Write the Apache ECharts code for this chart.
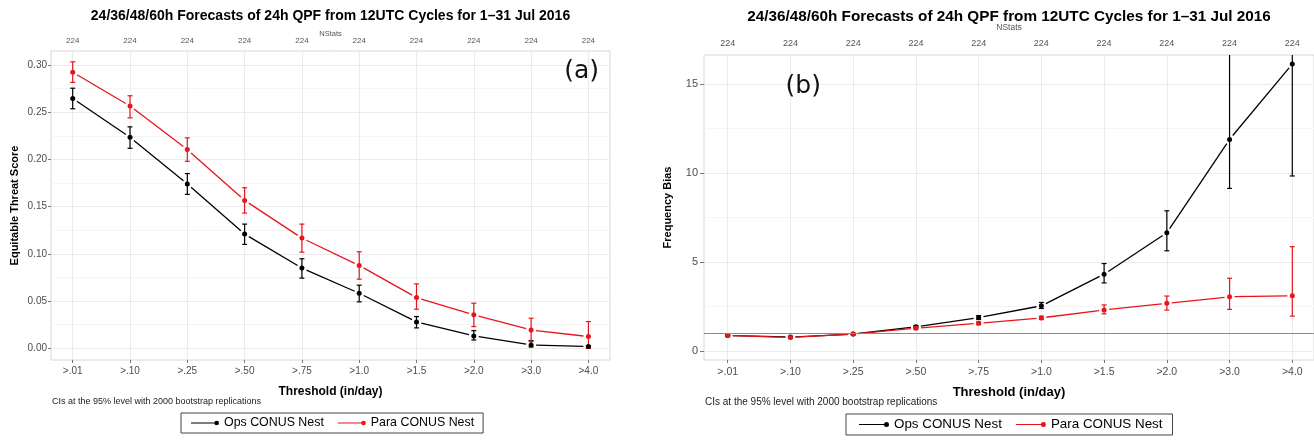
<!DOCTYPE html>
<html><head><meta charset="utf-8">
<script src="https://cdn.jsdelivr.net/npm/echarts@6/dist/echarts.min.js"></script>
<style>html,body{margin:0;padding:0;background:#fff}#chart{width:1314px;height:440px}</style>
</head><body><div id="chart"></div>
<script>
// ---------------- DATA ----------------
const titleText = '24/36/48/60h Forecasts of 24h QPF from 12UTC Cycles for 1\u201331 Jul 2016';
const categories = ['>.01', '>.10', '>.25', '>.50', '>.75', '>1.0', '>1.5', '>2.0', '>3.0', '>4.0'];
const nStats = ['224', '224', '224', '224', '224', '224', '224', '224', '224', '224'];
const seriesNames = ['Ops CONUS Nest', 'Para CONUS Nest'];

// (a) Equitable Threat Score
const etsTicks = [0, 0.05, 0.10, 0.15, 0.20, 0.25, 0.30];
const etsMinor = [0.025, 0.075, 0.125, 0.175, 0.225, 0.275];
const etsOps    = [0.2645, 0.2235, 0.174, 0.121, 0.0849, 0.0583, 0.0279, 0.0131, 0.0035, 0.0018];
const etsOpsLo  = [0.2536, 0.2118, 0.163, 0.110, 0.0743, 0.0492, 0.0216, 0.0088, 0.0014, 0.0000];
const etsOpsHi  = [0.2754, 0.2345, 0.185, 0.1315, 0.0948, 0.0668, 0.0336, 0.0187, 0.0081, 0.0028];
const etsPara   = [0.2924, 0.2565, 0.2104, 0.1566, 0.1167, 0.0877, 0.0537, 0.0354, 0.0194, 0.0124];
const etsParaLo = [0.2815, 0.2440, 0.1980, 0.1432, 0.1018, 0.0732, 0.0414, 0.0230, 0.0071, 0.0000];
const etsParaHi = [0.3033, 0.2674, 0.2228, 0.1700, 0.1315, 0.1022, 0.0682, 0.0477, 0.0318, 0.0283];

// (b) Frequency Bias
const biasTicks = [0, 5, 10, 15];
const biasMinor = [2.5, 7.5, 12.5];
const biasRef = 1;
const biasOps    = [0.86, 0.77, 0.94, 1.35, 1.87, 2.53, 4.31, 6.64, 11.90, 16.14];
const biasOpsLo  = [0.82, 0.73, 0.90, 1.28, 1.76, 2.38, 3.82, 5.63, 9.14, 9.84];
const biasOpsHi  = [0.90, 0.81, 0.98, 1.42, 1.98, 2.72, 4.91, 7.88, 17.4, 23.5];
const biasPara   = [0.86, 0.75, 0.94, 1.27, 1.55, 1.85, 2.30, 2.67, 3.04, 3.10];
const biasParaLo = [0.83, 0.72, 0.91, 1.20, 1.47, 1.76, 2.08, 2.29, 2.33, 1.95];
const biasParaHi = [0.89, 0.78, 0.97, 1.34, 1.63, 1.95, 2.58, 3.08, 4.08, 5.86];

// ---------------- STYLE ----------------
const FONT = "'Liberation Sans', Arial, Helvetica, sans-serif";
const OPS = '#000000', PARA = '#e8141c';
const MAJOR = '#ebebeb', MINOR = '#f5f5f5', BORDER = '#d6d6d6', TICKTXT = '#4d4d4d';
const catIdx = categories.map((_, i) => i);
const legendIcon = 'path://M0,4.5H26V5.5H0Z M25,5A2.5,2.5 0 1 1 30,5A2.5,2.5 0 1 1 25,5Z';

function segData(v) { const o = []; for (let i = 0; i < v.length - 1; i++) o.push([i, v[i], i + 1, v[i + 1]]); return o; }
function errData(lo, hi) { return lo.map((l, i) => [i, l, hi[i]]); }
function ptData(v) { return v.map((y, i) => [i, y]); }

function segRender(lw) {
  return function (params, api) {
    const a = api.coord([api.value(0), api.value(1)]);
    const b = api.coord([api.value(2), api.value(3)]);
    const dx = b[0] - a[0], dy = b[1] - a[1];
    const L = Math.sqrt(dx * dx + dy * dy) || 1;
    const g = Math.min(5, L / 2 - 0.5);
    const ux = dx / L, uy = dy / L;
    return { type: 'line', shape: { x1: a[0] + ux * g, y1: a[1] + uy * g, x2: b[0] - ux * g, y2: b[1] - uy * g },
      style: { stroke: api.visual('color'), lineWidth: lw } };
  };
}
function errRender(lw, cap) {
  return function (params, api) {
    const cs = params.coordSys;
    const x = api.value(0);
    const pl = api.coord([x, api.value(1)]), ph = api.coord([x, api.value(2)]);
    const top = Math.max(ph[1], cs.y), bot = Math.min(pl[1], cs.y + cs.height);
    const st = { stroke: api.visual('color'), lineWidth: lw };
    const ch = [{ type: 'line', shape: { x1: pl[0], y1: top, x2: pl[0], y2: bot }, style: st }];
    if (ph[1] >= cs.y) ch.push({ type: 'line', shape: { x1: pl[0] - cap, y1: ph[1], x2: pl[0] + cap, y2: ph[1] }, style: st });
    if (pl[1] <= cs.y + cs.height) ch.push({ type: 'line', shape: { x1: pl[0] - cap, y1: pl[1], x2: pl[0] + cap, y2: pl[1] }, style: st });
    return { type: 'group', children: ch };
  };
}

function panelSeries(xi, yi, sets, lw, markRef) {
  const out = [];
  sets.forEach(s => {
    out.push({ type: 'custom', name: s.name, xAxisIndex: xi, yAxisIndex: yi, itemStyle: { color: s.color },
      renderItem: segRender(lw), encode: { x: [0, 2], y: [1, 3] }, data: segData(s.v), silent: true, z: 3 });
    out.push({ type: 'custom', name: s.name, xAxisIndex: xi, yAxisIndex: yi, itemStyle: { color: s.color },
      renderItem: errRender(1.2, 2.5), encode: { x: 0, y: [1, 2] }, data: errData(s.lo, s.hi), silent: true, z: 3 });
    out.push({ type: 'scatter', name: s.name, xAxisIndex: xi, yAxisIndex: yi, symbol: 'circle', symbolSize: 5,
      itemStyle: { color: s.color, opacity: 1 }, data: ptData(s.v), silent: true, z: 4 });
  });
  if (markRef !== undefined) {
    out[0].markLine = { silent: true, symbol: 'none', label: { show: false },
      lineStyle: { color: '#8a8a8a', width: 1, type: 'solid' }, data: [{ yAxis: markRef }] };
  }
  return out;
}

function bottomX(grid, min, max, fs, margin, nameGap, nameFs) {
  return { type: 'value', gridIndex: grid, position: 'bottom', min: min, max: max,
    axisLine: { show: false, onZero: false },
    axisTick: { show: true, length: 3, lineStyle: { color: '#777' }, customValues: catIdx },
    axisLabel: { customValues: catIdx, formatter: v => categories[Math.round(v)], fontSize: fs, color: TICKTXT, fontFamily: FONT, margin: margin },
    splitLine: { show: true, lineStyle: { color: MAJOR, width: 1 } },
    name: 'Threshold (in/day)', nameLocation: 'middle', nameGap: nameGap,
    nameTextStyle: { fontSize: nameFs, fontWeight: 'bold', color: '#000', fontFamily: FONT } };
}
function topX(grid, min, max, fs, margin, nameGap) {
  return { type: 'value', gridIndex: grid, position: 'top', min: min, max: max,
    axisLine: { show: false, onZero: false }, axisTick: { show: false, customValues: catIdx },
    axisLabel: { customValues: catIdx, formatter: v => nStats[Math.round(v)], fontSize: fs, color: '#555', fontFamily: FONT, margin: margin },
    splitLine: { show: false },
    name: 'NStats', nameLocation: 'middle', nameGap: nameGap, nameMoveOverlap: false,
    nameTextStyle: { fontSize: fs - 0.5, color: '#555', fontFamily: FONT } };
}
function mainY(grid, min, max, ticks, fmt, fs, margin, tickLen, name, nameGap) {
  return { type: 'value', gridIndex: grid, position: 'left', min: min, max: max,
    axisLine: { show: false, onZero: false },
    axisTick: { show: true, length: tickLen, lineStyle: { color: '#777' }, customValues: ticks },
    axisLabel: { customValues: ticks, formatter: fmt, fontSize: fs, color: TICKTXT, fontFamily: FONT, margin: margin },
    splitLine: { show: true, lineStyle: { color: MAJOR, width: 1 } },
    name: name, nameLocation: 'middle', nameGap: nameGap,
    nameTextStyle: { fontSize: 11, fontWeight: 'bold', color: '#000', fontFamily: FONT } };
}
function minorY(grid, min, max, ticks) {
  return { type: 'value', gridIndex: grid, position: 'left', min: min, max: max,
    axisLine: { show: false, onZero: false }, axisTick: { show: false, customValues: ticks },
    axisLabel: { show: false, customValues: ticks },
    splitLine: { show: true, lineStyle: { color: MINOR, width: 1 } } };
}

const option = {
  backgroundColor: '#ffffff',
  animation: false,
  textStyle: { fontFamily: FONT },
  title: [
    { text: titleText, left: 330.5, top: 9, textAlign: 'center', padding: 0,
      textStyle: { fontSize: 14, fontWeight: 'bold', color: '#000', fontFamily: FONT } },
    { text: titleText, left: 1009, top: 9, textAlign: 'center', padding: 0,
      textStyle: { fontSize: 15.3, fontWeight: 'bold', color: '#000', fontFamily: FONT } }
  ],
  grid: [
    { left: 51, top: 51, width: 559, height: 309, show: true, borderColor: BORDER, borderWidth: 1, backgroundColor: '#fff' },
    { left: 704, top: 55, width: 610, height: 305, show: true, borderColor: BORDER, borderWidth: 1, backgroundColor: '#fff' }
  ],
  xAxis: [
    bottomX(0, -0.379, 9.377, 10, 6, 26, 12),
    topX(0, -0.379, 9.377, 8, 6, 13),
    bottomX(1, -0.378, 9.346, 10.5, 7, 26, 13),
    topX(1, -0.378, 9.346, 9, 7, 23)
  ],
  yAxis: [
    mainY(0, -0.0124, 0.3148, etsTicks, v => v.toFixed(2), 10, 4, 3, 'Equitable Threat Score', 31),
    minorY(0, -0.0124, 0.3148, etsMinor),
    mainY(1, -0.52, 16.65, biasTicks, v => String(Math.round(v)), 11, 6, 4, 'Frequency Bias', 31),
    minorY(1, -0.52, 16.65, biasMinor)
  ],
  legend: [
    { left: 181, top: 413, orient: 'horizontal', padding: [4, 9, 4, 10], itemGap: 14, itemWidth: 28, itemHeight: 5,
      borderColor: '#444', borderWidth: 1, backgroundColor: '#fff', selectedMode: false,
      textStyle: { fontSize: 12.4, color: '#000', fontFamily: FONT },
      data: [{ name: seriesNames[0], icon: legendIcon, itemStyle: { color: OPS } },
             { name: seriesNames[1], icon: legendIcon, itemStyle: { color: PARA } }] },
    { left: 846, top: 414, orient: 'horizontal', padding: [4, 10, 4, 13], itemGap: 14, itemWidth: 30, itemHeight: 5,
      borderColor: '#444', borderWidth: 1, backgroundColor: '#fff', selectedMode: false,
      textStyle: { fontSize: 13.4, color: '#000', fontFamily: FONT },
      data: [{ name: seriesNames[0], icon: legendIcon, itemStyle: { color: OPS } },
             { name: seriesNames[1], icon: legendIcon, itemStyle: { color: PARA } }] }
  ],
  graphic: [
    { type: 'text', left: 52, top: 397, style: { text: 'CIs at the 95% level with 2000 bootstrap replications', fontSize: 9, fill: '#222', fontFamily: FONT } },
    { type: 'text', left: 705, top: 397, style: { text: 'CIs at the 95% level with 2000 bootstrap replications', fontSize: 10, fill: '#222', fontFamily: FONT } },
    { type: 'text', x: 581.7, y: 71.7, style: { text: '(a)', fontSize: 25, fill: '#111', fontFamily: "'DejaVu Sans', sans-serif", align: 'center', verticalAlign: 'middle' }, z: 10 },
    { type: 'text', x: 803.3, y: 86.7, style: { text: '(b)', fontSize: 25, fill: '#111', fontFamily: "'DejaVu Sans', sans-serif", align: 'center', verticalAlign: 'middle' }, z: 10 }
  ],
  series: [].concat(
    panelSeries(0, 0, [
      { name: seriesNames[0], color: OPS, v: etsOps, lo: etsOpsLo, hi: etsOpsHi },
      { name: seriesNames[1], color: PARA, v: etsPara, lo: etsParaLo, hi: etsParaHi }
    ], 1.3),
    panelSeries(2, 2, [
      { name: seriesNames[0], color: OPS, v: biasOps, lo: biasOpsLo, hi: biasOpsHi },
      { name: seriesNames[1], color: PARA, v: biasPara, lo: biasParaLo, hi: biasParaHi }
    ], 1.3, biasRef)
  )
};

const chart = echarts.init(document.getElementById('chart'), null, { renderer: 'canvas' });
chart.setOption(option);
</script>
</body></html>
